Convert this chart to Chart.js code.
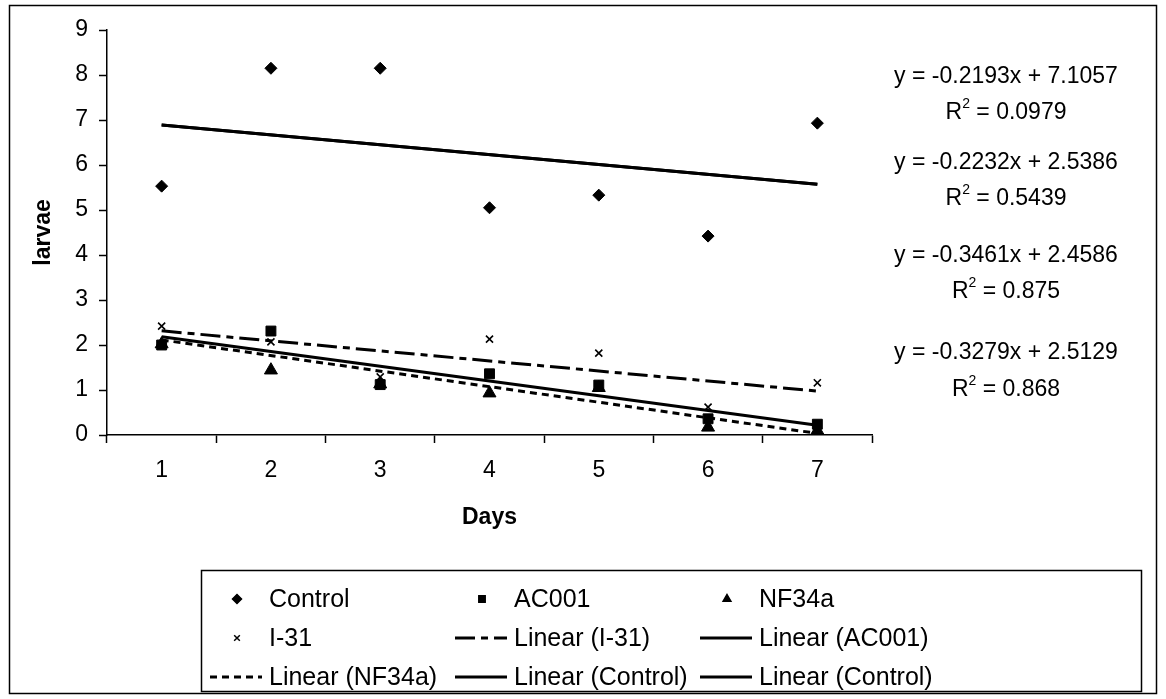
<!DOCTYPE html>
<html>
<head>
<meta charset="utf-8">
<script src="https://cdn.jsdelivr.net/npm/chart.js@4.4.1/dist/chart.umd.min.js"></script>
<style>
  html, body { margin: 0; padding: 0; background: #fff; }
  #wrap { position: relative; width: 1166px; height: 699px; }
</style>
</head>
<body>
<div id="wrap"><canvas id="chart" width="1166" height="699"></canvas></div>
<script>
// Data
const DAYS = ['1', '2', '3', '4', '5', '6', '7'];
const CONTROL = [5.53, 8.15, 8.15, 5.05, 5.33, 4.42, 6.93];
const AC001 = [2.00, 2.31, 1.12, 1.36, 1.11, 0.36, 0.24];
const NF34A = [2.02, 1.44, 1.13, 0.93, 1.05, 0.17, 0.10];
const I31 = [2.42, 2.07, 1.29, 2.13, 1.82, 0.62, 1.16];

// Trendlines (as printed on the chart)
const TREND_LABELS = ['Linear (I-31)', 'Linear (AC001)', 'Linear (NF34a)', 'Linear (Control)', 'Linear (Control)'];
const TREND_SLOPES = [-0.2232, -0.3279, -0.3461, -0.2193, -0.2193];
const TREND_INTERCEPTS = [2.5386, 2.5129, 2.4586, 7.1057, 7.1057];
const TREND_DASHES = [[20, 6, 7, 6], [], [7, 5], [], []];

// Equation labels, top to bottom
const EQ_TEXT = ['y = -0.2193x + 7.1057', 'y = -0.2232x + 2.5386', 'y = -0.3461x + 2.4586', 'y = -0.3279x + 2.5129'];
const R2_TEXT = ['0.0979', '0.5439', '0.875', '0.868'];

const FONT = "'Liberation Sans', Arial, sans-serif";
const INK = '#000000';

function trendData(i) {
  const last = DAYS.length - 1;
  return DAYS.map((d, k) => (k === 0 || k === last) ? TREND_SLOPES[i] * (k + 1) + TREND_INTERCEPTS[i] : null);
}

function markerSet(label, data, style, radius) {
  return {
    label,
    data,
    showLine: false,
    pointStyle: style,
    pointRadius: radius,
    pointHoverRadius: radius,
    pointBackgroundColor: INK,
    pointBorderColor: INK,
    pointBorderWidth: style === 'crossRot' ? 1.6 : 1,
    borderColor: INK,
    backgroundColor: INK,
  };
}

const datasets = [
  markerSet('Control', CONTROL, 'rectRot', 6),
  markerSet('AC001', AC001, 'rect', 7),
  markerSet('NF34a', NF34A, 'triangle', 7.5),
  markerSet('I-31', I31, 'crossRot', 5),
];

TREND_LABELS.forEach((label, i) => {
  datasets.push({
    label,
    data: trendData(i),
    spanGaps: true,
    borderColor: INK,
    borderWidth: 3,
    borderDash: TREND_DASHES[i],
    pointRadius: 0,
    pointHoverRadius: 0,
    fill: false,
    tension: 0,
  });
});

// Page frame, equations and the boxed legend
const decorPlugin = {
  id: 'decor',
  beforeDraw(chart) {
    const ctx = chart.ctx;
    ctx.save();
    ctx.fillStyle = '#fff';
    ctx.fillRect(0, 0, chart.width, chart.height);
    ctx.strokeStyle = INK;
    ctx.lineWidth = 1.5;
    ctx.strokeRect(9.5, 5.5, 1147, 688);
    ctx.restore();
  },
  afterDraw(chart) {
    const ctx = chart.ctx;
    ctx.save();
    ctx.fillStyle = INK;
    ctx.textBaseline = 'middle';

    // regression equations
    const eqFont = `23px ${FONT}`;
    const supFont = `14px ${FONT}`;
    const cx = 1006;
    const eqY = [77, 163, 256, 353];
    const r2Y = [113, 199, 292, 390];
    EQ_TEXT.forEach((t, i) => {
      ctx.font = eqFont;
      ctx.textAlign = 'center';
      ctx.fillText(t, cx, eqY[i]);
      // R² line with superscript
      const rest = ' = ' + R2_TEXT[i];
      const wR = ctx.measureText('R').width;
      const wRest = ctx.measureText(rest).width;
      ctx.font = supFont;
      const wSup = ctx.measureText('2').width;
      const total = wR + wSup + wRest;
      let x = cx - total / 2;
      ctx.textAlign = 'left';
      ctx.font = eqFont;
      ctx.fillText('R', x, r2Y[i]);
      x += wR;
      ctx.font = supFont;
      ctx.fillText('2', x, r2Y[i] - 9);
      x += wSup;
      ctx.font = eqFont;
      ctx.fillText(rest, x, r2Y[i]);
    });

    // legend box
    ctx.strokeStyle = INK;
    ctx.lineWidth = 1.5;
    ctx.strokeRect(201.5, 570.5, 940, 121);

    const colX = [210, 455, 700];
    const rowY = [599, 638, 677];
    ctx.font = `25px ${FONT}`;
    ctx.textAlign = 'left';
    chart.data.datasets.forEach((ds, i) => {
      const col = i % 3;
      const row = Math.floor(i / 3);
      const x0 = colX[col];
      const y = rowY[row];
      if (ds.showLine === false) {
        Chart.helpers.drawPoint(ctx, {
          pointStyle: ds.pointStyle,
          radius: ds.pointStyle === 'crossRot' ? 4 : 4.5,
          rotation: 0,
          borderWidth: 1.2,
        }, x0 + 27, y);
        ctx.fillStyle = INK;
        ctx.strokeStyle = INK;
        ctx.fill();
      } else {
        ctx.beginPath();
        ctx.setLineDash(ds.borderDash);
        ctx.lineWidth = 3;
        ctx.moveTo(x0, y);
        ctx.lineTo(x0 + 52, y);
        ctx.stroke();
        ctx.setLineDash([]);
      }
      ctx.fillStyle = INK;
      ctx.fillText(ds.label, x0 + 59, y + 1);
    });
    ctx.restore();
  }
};

new Chart(document.getElementById('chart'), {
  type: 'line',
  data: { labels: DAYS, datasets },
  plugins: [decorPlugin],
  options: {
    responsive: false,
    animation: false,
    events: [],
    layout: { padding: { top: 30, right: 294, bottom: 164, left: 0 } },
    plugins: {
      legend: { display: false },
      tooltip: { enabled: false },
    },
    scales: {
      x: {
        type: 'category',
        offset: true,
        afterFit(scale) { scale.height = 100; },
        grid: {
          offset: true,
          drawOnChartArea: false,
          drawTicks: true,
          tickLength: 8,
          tickWidth: 1.5,
          tickColor: INK,
        },
        border: { display: true, color: INK, width: 1.5 },
        ticks: {
          color: INK,
          padding: 14,
          font: { family: FONT, size: 23 },
          maxRotation: 0,
        },
        title: {
          display: true,
          text: 'Days',
          color: INK,
          font: { family: FONT, size: 23, weight: 'bold' },
          padding: { top: 0, bottom: 4 },
        },
      },
      y: {
        min: 0,
        max: 9,
        afterFit(scale) { scale.width = 107; },
        grid: {
          drawOnChartArea: false,
          drawTicks: true,
          tickLength: 8,
          tickWidth: 1.5,
          tickColor: INK,
        },
        border: { display: true, color: INK, width: 1.5 },
        ticks: {
          stepSize: 1,
          color: INK,
          padding: 11,
          font: { family: FONT, size: 23 },
        },
        title: {
          display: true,
          text: 'larvae',
          color: INK,
          font: { family: FONT, size: 23, weight: 'bold' },
          padding: { top: 30, bottom: 0 },
        },
      },
    },
  },
});
</script>
</body>
</html>
